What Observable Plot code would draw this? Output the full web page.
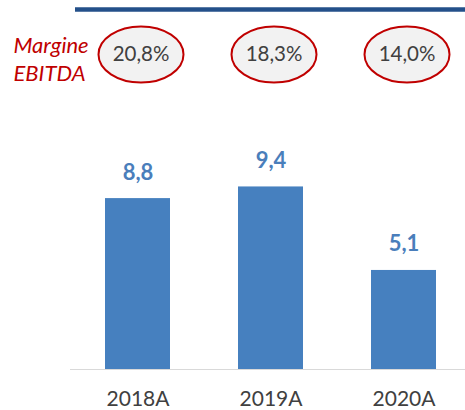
<!DOCTYPE html>
<html>
<head>
<meta charset="utf-8">
<script src="https://cdn.jsdelivr.net/npm/d3@7"></script>
<script src="https://cdn.jsdelivr.net/npm/@observablehq/plot@0.6"></script>
<style>
  html, body { margin: 0; padding: 0; background: #fff; }
  #chart svg { display: block; }
</style>
</head>
<body>
<div id="chart"></div>
<script>
const years = ["2018A", "2019A", "2020A"];
const ebitda = [8.8, 9.4, 5.1];
const ebitdaLabels = ["8,8", "9,4", "5,1"];
const margins = ["20,8%", "18,3%", "14,0%"];
const marginTitle = ["Margine\nEBITDA"];

const data = years.map((y, i) => ({year: y, value: ebitda[i], label: ebitdaLabels[i], margin: margins[i]}));

const ellipse = {
  draw(ctx) {
    const a = 42.5, b = 28, k = 0.5523;
    ctx.moveTo(a, 0);
    ctx.bezierCurveTo(a, b * k, a * k, b, 0, b);
    ctx.bezierCurveTo(-a * k, b, -a, b * k, -a, 0);
    ctx.bezierCurveTo(-a, -b * k, -a * k, -b, 0, -b);
    ctx.bezierCurveTo(a * k, -b, a, -b * k, a, 0);
    ctx.closePath();
  }
};

const font = "Lato, 'Open Sans', sans-serif";
const yMax = 19;

const chart = Plot.plot({
  width: 465,
  height: 410,
  marginLeft: 70,
  marginRight: 0,
  marginTop: 0,
  marginBottom: 41,
  style: {fontFamily: font, background: "#fff", overflow: "visible"},
  x: {domain: years, range: [71, 471], paddingInner: 0.51, paddingOuter: 0.255, axis: null},
  y: {domain: [0, yMax], axis: null},
  marks: [
    Plot.ruleY([yMax], {dy: 9, insetLeft: 5, stroke: "#24508a", strokeWidth: 4.5}),
    Plot.barY(data, {x: "year", y: "value", fill: "#4680bf"}),
    Plot.ruleY([0], {stroke: "#d9d9d9", strokeWidth: 1.2}),
    Plot.text(data, {x: "year", y: "value", text: "label", dy: -26, lineAnchor: "middle",
      fill: "#4a7ebb", fontSize: 22, fontWeight: "bold"}),
    Plot.text(data, {x: "year", text: "year", frameAnchor: "bottom", dy: 30, lineAnchor: "middle",
      fill: "#404040", fontSize: 21}),
    Plot.dot(data, {x: "year", frameAnchor: "top", dy: 54, dx: 3, symbol: ellipse,
      fill: "#f2f2f2", stroke: "#c00000", strokeWidth: 2}),
    Plot.text(data, {x: "year", text: "margin", frameAnchor: "top", dy: 54, dx: 3, lineAnchor: "middle",
      fill: "#404040", fontSize: 20.5}),
    Plot.text(marginTitle, {frameAnchor: "top-left", dx: -57, dy: 32, textAnchor: "start", lineAnchor: "top",
      lineHeight: 1.3, fill: "#c00000", fontSize: 22, fontStyle: "italic", letterSpacing: "0.6px"})
  ]
});
document.getElementById("chart").appendChild(chart);
</script>
</body>
</html>
